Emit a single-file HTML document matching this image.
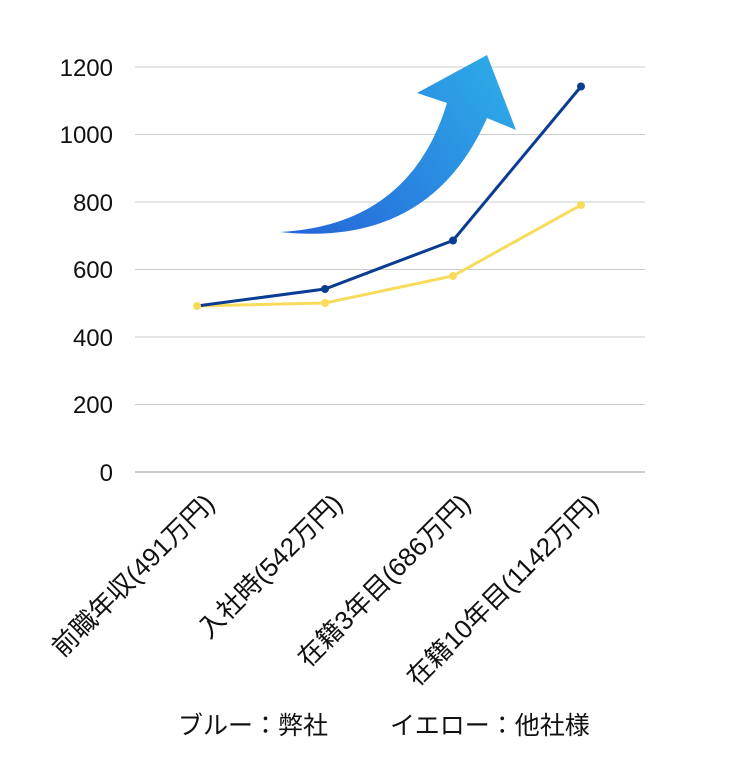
<!DOCTYPE html>
<html><head><meta charset="utf-8"><style>
html,body{margin:0;padding:0;background:#fff;}
svg{display:block;font-family:"Liberation Sans","Noto Sans CJK JP",sans-serif;}
</style></head><body>
<svg width="730" height="759" viewBox="0 0 730 759" xmlns="http://www.w3.org/2000/svg">
<defs>
<linearGradient id="g" x1="280" y1="232" x2="516" y2="60" gradientUnits="userSpaceOnUse">
<stop offset="0" stop-color="#2563d8"/><stop offset="1" stop-color="#2eaee8"/>
</linearGradient>
</defs>
<g stroke="#cccccc" stroke-width="1">
<line x1="135" y1="67" x2="645" y2="67"/>
<line x1="135" y1="134.5" x2="645" y2="134.5"/>
<line x1="135" y1="202" x2="645" y2="202"/>
<line x1="135" y1="269.5" x2="645" y2="269.5"/>
<line x1="135" y1="337" x2="645" y2="337"/>
<line x1="135" y1="404.5" x2="645" y2="404.5"/>
</g>
<line x1="135" y1="472" x2="645" y2="472" stroke="#999" stroke-width="1"/>
<g font-size="24" fill="#111" text-anchor="end">
<text x="113" y="481">0</text>
<text x="113" y="413">200</text>
<text x="113" y="346">400</text>
<text x="113" y="278">600</text>
<text x="113" y="211">800</text>
<text x="113" y="143">1000</text>
<text x="113" y="76">1200</text>
</g>
<path d="M280,232 Q410,225 447,103 L417,93 L487,55 L516,130 L487,118 Q430,248 280,232 Z" fill="url(#g)"/>
<polyline points="197,306 325,303 453,276 581,205" fill="none" stroke="#f7dc5c" stroke-width="3"/>
<polyline points="197,306 325,289 453,240.5 581,86.5" fill="none" stroke="#0a3d91" stroke-width="3"/>
<g fill="#f7dc5c"><circle cx="325" cy="303" r="4"/><circle cx="453" cy="276" r="4"/><circle cx="581" cy="205" r="4"/></g>
<g fill="#0a3d91"><circle cx="325" cy="289" r="4"/><circle cx="453" cy="240.5" r="4"/><circle cx="581" cy="86.5" r="4"/></g>
<circle cx="197" cy="306" r="4" fill="#f7dc5c"/>
<g font-size="26" fill="#111" text-anchor="end">
<text transform="translate(216,505) rotate(-45)">前職年収(491万円)</text>
<text transform="translate(344,505) rotate(-45)">入社時(542万円)</text>
<text transform="translate(472,505) rotate(-45)">在籍3年目(686万円)</text>
<text transform="translate(600,505) rotate(-45)">在籍10年目(1142万円)</text>
</g>
<g font-size="25" fill="#111">
<text x="178" y="734">ブルー：弊社</text>
<text x="390" y="734">イエロー：他社様</text>
</g>
</svg>
</body></html>
